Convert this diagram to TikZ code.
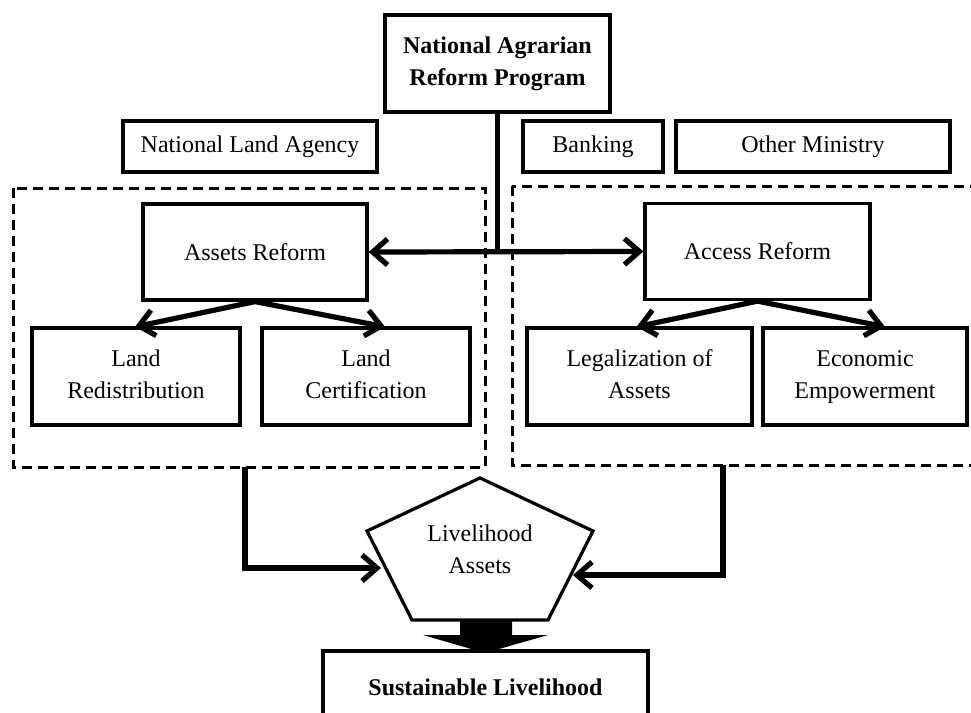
\documentclass[tikz,border=0pt]{standalone}
\usepackage{fontspec}
\setmainfont{Liberation Serif}
\usetikzlibrary{arrows.meta,calc}
\begin{document}
\begin{tikzpicture}[x=0.5pt,y=-0.5pt,
  box/.style={draw,line width=1.6pt,inner sep=0pt,align=center,font=\fontsize{12}{16}\selectfont},
  dbox/.style={draw,line width=1.5pt,dash pattern=on 5pt off 3pt},
  conn/.style={line width=2.6pt,-{Straight Barb[length=7.5pt,width=13pt]}},
  penta/.style={draw,line width=1.6pt},
  lbl/.style={align=center,font=\fontsize{12}{16}\selectfont,inner sep=0pt}]
\useasboundingbox (0,0) rectangle (971,713);
\begin{scope}
\clip (0,0) rectangle (971,713);
% dashed groups
\draw[dbox] (13,188) rectangle (485,467);
\draw[dbox] (512,186) rectangle (995,465);
\coordinate (lgb) at (245,467);
\coordinate (rgb) at (723,465);
% top boxes
\node[box,minimum width=112.5pt,minimum height=48.5pt,font=\fontsize{12}{16}\selectfont\bfseries] (nar) at (497.5,63.5) {National Agrarian\strut\\Reform Program\strut};
\node[box,minimum width=127pt,minimum height=25.5pt] (nla) at (250,146.5) {National Land Agency};
\node[box,minimum width=70pt,minimum height=25.5pt] (bank) at (593,146.5) {Banking};
\node[box,minimum width=137pt,minimum height=25.5pt] (other) at (813,146.5) {Other Ministry};
% reform boxes
\node[box,minimum width=112pt,minimum height=48pt] (assets) at (255,252) {Assets Reform};
\node[box,minimum width=112.5pt,minimum height=48pt] (access) at (757.5,251.5) {Access Reform};
\node[box,minimum width=104pt,minimum height=48.5pt] (landred) at (136,376.5) {Land\strut\\Redistribution\strut};
\node[box,minimum width=104pt,minimum height=48.5pt] (landcert) at (366,376.5) {Land\strut\\Certification\strut};
\node[box,minimum width=112.5pt,minimum height=48.5pt] (legal) at (639.5,376.5) {Legalization of\strut\\Assets\strut};
\node[box,minimum width=102pt,minimum height=48.5pt] (econ) at (865,376.5) {Economic\strut\\Empowerment\strut};
% pentagon
\coordinate (pt) at (480,478);
\coordinate (pul) at (367,531);
\coordinate (pur) at (593,531);
\coordinate (pbl) at (412,620);
\coordinate (pbr) at (548,620);
\draw[penta] (pt) -- (pur) -- (pbr) -- (pbl) -- (pul) -- cycle;
\node[lbl] (liv) at (480,551) {Livelihood\strut\\Assets\strut};
\coordinate (pl) at (381,568);
\coordinate (pr) at (573,575);
% sustainable
\node[box,minimum width=162.5pt,minimum height=36pt,font=\fontsize{12}{16}\selectfont\bfseries] (sus) at (485.5,687) {Sustainable Livelihood};
% block arrow
\fill (460,619) -- (512,619) -- (512,635) -- (548,635) -- (485,653) -- (423,635) -- (460,635) -- cycle;
% connectors
\coordinate (junc) at (nar.south |- assets.east);
\draw[line width=2.6pt] (nar.south) -- (junc);
\draw[line width=2.6pt,{Straight Barb[length=7.5pt,width=13pt]}-{Straight Barb[length=7.5pt,width=13pt]}] (assets.east) -- (access.west);
\draw[conn,shorten >=-1pt] (assets.south) -- ($(landred.north)+(1,0)$);
\draw[conn,shorten >=-1pt] (assets.south) -- ($(landcert.north)+(17,0)$);
\draw[conn,shorten >=-1pt] (access.south) -- ($(legal.north)+(-1,0)$);
\draw[conn,shorten >=-1pt] (access.south) -- ($(econ.north)+(18,0)$);
\draw[conn] (lgb) |- (pl);
\draw[conn] (rgb) |- (pr);
\end{scope}
\end{tikzpicture}
\end{document}
